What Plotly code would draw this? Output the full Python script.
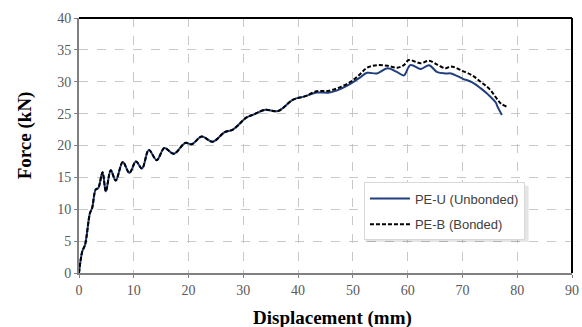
import plotly.graph_objects as go

# PE-U (Unbonded)
x_u = [0, 0.6, 1.1, 2.0, 2.4, 3.05, 3.5, 4.3, 4.9, 5.8, 6.7, 8.0, 9.2, 10.4, 11.5, 12.75,
       14.2, 15.6, 17.3, 19.4, 20.6, 22.4, 24.4, 26.6, 28.1, 30.6, 32.0, 34.0, 36.3, 39.1,
       41.2, 43.4, 45.7, 47.8, 49.6, 51.2, 52.6, 54.4, 56.3, 58.1, 59.3, 60.5, 62.4, 63.9,
       65.4, 66.9, 67.9, 70.0, 71.8, 73.3, 74.8, 76.1, 76.4, 77.2]
y_u = [0, 3.4, 4.4, 9.4, 10.2, 13.1, 13.3, 15.8, 12.8, 16.1, 14.5, 17.4, 15.7, 17.5, 16.4, 19.3,
       17.7, 19.6, 18.7, 20.4, 20.2, 21.4, 20.6, 22.1, 22.5, 24.4, 24.9, 25.6, 25.4, 27.2,
       27.7, 28.3, 28.3, 28.9, 29.7, 30.6, 31.4, 31.3, 32.1, 31.5, 31.0, 32.6, 32.0, 32.6,
       31.5, 31.3, 31.3, 30.5, 29.9, 29.0, 27.9, 26.7, 26.1, 24.8]

# PE-B (Bonded)
x_b = [0, 0.6, 1.1, 2.0, 2.4, 3.05, 3.5, 4.3, 4.9, 5.8, 6.7, 8.0, 9.2, 10.4, 11.5, 12.75,
       14.2, 15.6, 17.3, 19.4, 20.6, 22.4, 24.4, 26.6, 28.1, 30.6, 32.0, 34.0, 36.3, 39.1,
       41.2, 43.4, 45.7, 47.8, 49.6, 51.2, 52.6, 54.4, 56.3, 58.1, 59.3, 60.2, 62.4, 63.9,
       65.4, 66.9, 67.9, 70.0, 71.8, 73.3, 75.0, 77.0, 78.1]
y_b = [0, 3.4, 4.4, 9.4, 10.2, 13.1, 13.3, 15.8, 12.8, 16.1, 14.5, 17.4, 15.7, 17.5, 16.4, 19.3,
       17.7, 19.6, 18.7, 20.4, 20.2, 21.4, 20.6, 22.1, 22.5, 24.4, 24.9, 25.6, 25.4, 27.2,
       27.7, 28.5, 28.6, 29.2, 30.0, 31.1, 32.2, 32.6, 32.5, 32.2, 32.6, 33.4, 32.9, 33.3,
       32.7, 32.1, 32.4, 31.7, 31.0, 30.0, 28.8, 26.6, 26.1]

x_ticks = [0, 10, 20, 30, 40, 50, 60, 70, 80, 90]
y_ticks = [0, 5, 10, 15, 20, 25, 30, 35, 40]
x_title = "Displacement (mm)"
y_title = "Force (kN)"

fig = go.Figure()
# legend shadow (drawn under legend)
fig.add_shape(type="rect", xref="paper", yref="paper", x0=0.581, x1=0.912, y0=0.122, y1=0.342,
              line=dict(width=0), fillcolor="rgba(0,0,0,0.10)", layer="above")

fig.add_trace(go.Scatter(x=x_u, y=y_u, mode="lines", name="PE-U (Unbonded)",
                         legendgroup="u",
                         line=dict(color="#1f3f7f", width=2, shape="spline", smoothing=1.0)))
fig.add_trace(go.Scatter(x=x_b, y=y_b, mode="lines", name="PE-B (Bonded)",
                         legendgroup="b",
                         line=dict(color="#000000", width=2, dash="4px,2px", shape="spline", smoothing=1.0)))

axis_common = dict(
    showgrid=True, gridcolor="#c8c8c8", griddash="dash", gridwidth=1,
    showline=True, linecolor="#808080", linewidth=2,
    ticks="outside", ticklen=3, tickcolor="#808080",
    tickfont=dict(family="Liberation Serif", size=14, color="#595959"),
    zeroline=False, automargin=False,
)

fig.update_layout(
    width=582, height=327,
    margin=dict(l=79, r=10, t=18, b=54),
    plot_bgcolor="white", paper_bgcolor="white",
    xaxis=dict(range=[0, 90], tickvals=x_ticks, **axis_common),
    yaxis=dict(range=[0, 40], tickvals=y_ticks, **axis_common),
    legend=dict(x=0.578, y=0.355, xanchor="left", yanchor="top",
                bgcolor="white", bordercolor="#d8d8d8", borderwidth=1,
                font=dict(family="Liberation Sans", size=13, color="#404040"),
                itemwidth=40, tracegroupgap=6),
    showlegend=True,
)

# axis titles
fig.add_annotation(text="<b>" + x_title + "</b>", xref="paper", yref="paper",
                   x=0.514, y=-0.176, xanchor="center", yanchor="middle", showarrow=False,
                   font=dict(family="Liberation Serif", size=19, color="black"))
fig.add_annotation(text="<b>" + y_title + "</b>", xref="paper", yref="paper",
                   x=-0.11, y=0.539, xanchor="center", yanchor="middle", showarrow=False,
                   textangle=-90,
                   font=dict(family="Liberation Serif", size=19, color="black"))

# top and right border (black)
fig.add_shape(type="line", xref="x domain", yref="y domain", x0=0, x1=1, y0=1, y1=1,
              line=dict(color="black", width=2))
fig.add_shape(type="line", xref="x domain", yref="y domain", x0=1, x1=1, y0=0, y1=1,
              line=dict(color="black", width=2))

fig.write_html("out.html")
